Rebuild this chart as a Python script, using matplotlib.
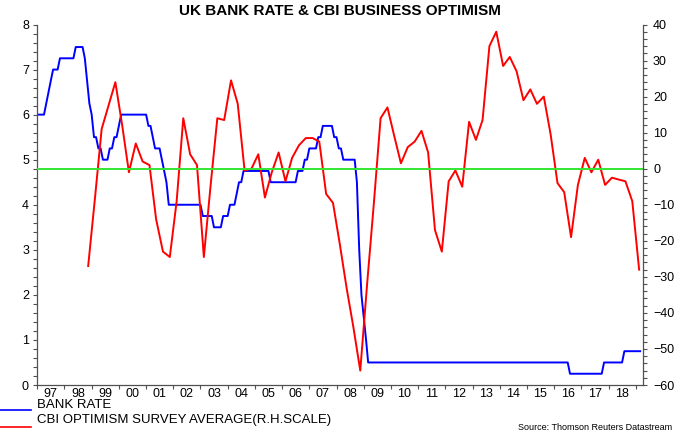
import numpy as np
import pandas as pd
import matplotlib
matplotlib.use("Agg")
import matplotlib.pyplot as plt
import matplotlib.dates as mdates
from matplotlib.lines import Line2D
from matplotlib.ticker import MultipleLocator

plt.rcParams['font.family'] = ['Liberation Sans', 'DejaVu Sans']

# UK bank rate: date of each change and the new rate (%)
rate_change_dates = [
    "1997-01-01", "1997-05-06", "1997-06-06", "1997-07-10", "1997-08-07", "1997-11-06",
    "1998-06-04", "1998-10-08", "1998-11-05", "1998-12-10",
    "1999-01-07", "1999-02-04", "1999-04-08", "1999-06-10", "1999-09-08", "1999-11-04",
    "2000-01-13", "2000-02-10",
    "2001-02-08", "2001-04-05", "2001-05-10", "2001-08-02", "2001-09-18", "2001-10-04", "2001-11-08",
    "2003-02-06", "2003-07-10", "2003-11-06",
    "2004-02-05", "2004-05-06", "2004-06-10", "2004-08-05",
    "2005-08-04",
    "2006-08-03", "2006-11-09",
    "2007-01-11", "2007-05-10", "2007-07-05", "2007-12-06",
    "2008-02-07", "2008-04-10", "2008-10-08", "2008-11-06", "2008-12-04",
    "2009-01-08", "2009-02-05", "2009-03-05",
    "2016-08-04", "2017-11-02", "2018-08-02",
]
rate_levels = [
    6.0, 6.25, 6.5, 6.75, 7.0, 7.25,
    7.5, 7.25, 6.75, 6.25,
    6.0, 5.5, 5.25, 5.0, 5.25, 5.5,
    5.75, 6.0,
    5.75, 5.5, 5.25, 5.0, 4.75, 4.5, 4.0,
    3.75, 3.5, 3.75,
    4.0, 4.25, 4.5, 4.75,
    4.5,
    4.75, 5.0,
    5.25, 5.5, 5.75, 5.5,
    5.25, 5.0, 4.5, 3.0, 2.0,
    1.5, 1.0, 0.5,
    0.25, 0.5, 0.75,
]

# CBI optimism, quarterly, first reading Nov 1998
cbi_optimism = [
    -27, -8, 11, 17.5, 24, 12, -1, 7, 2, 1,
    -14, -23, -24.5, -9, 14, 4, 1, -24.5, -5, 14,
    13.5, 24.5, 18, -0.5, 0, 4, -8, -1, 4.5, -3.5,
    3, 6.5, 8.5, 8.5, 7.5, -7, -9.5, -21, -33, -44,
    -56, -32, -10, 14, 17, 9, 1.5, 6, 7.5, 10.5,
    4.5, -17, -23, -3.5, -0.5, -5, 13, 8, 13.5, 34,
    38, 28.5, 31, 27, 19, 22, 18, 20, 9.5, -4,
    -6.5, -19, -4.5, 3, -1, 2.5, -4.5, -2.5, -3, -3.5,
    -9, -28,
]

year_labels = ["97", "98", "99", "00", "01", "02", "03", "04", "05", "06", "07",
               "08", "09", "10", "11", "12", "13", "14", "15", "16", "17", "18"]

# month-end bank rate
months = pd.date_range("1997-01-01", "2019-03-01", freq="MS")
month_ends = months + pd.offsets.MonthEnd(0)
changes = pd.to_datetime(rate_change_dates)
idx = np.searchsorted(changes.values, month_ends.values, side="right") - 1
bank_rate = np.array(rate_levels)[idx]

cbi_dates = pd.date_range("1998-11-01", periods=len(cbi_optimism), freq="3MS") + pd.Timedelta(days=14)

fig = plt.figure(figsize=(6.8, 4.33), dpi=100)
ax = fig.add_axes([37.3 / 680, 48 / 433, 606 / 680, 360.5 / 433])
ax.plot(months, bank_rate, color="#0000ff", lw=1.4)
ax.set_ylim(0, 8)
ax.set_xlim(pd.Timestamp("1997-01-01"), pd.Timestamp("2019-04-12"))

ax2 = ax.twinx()
ax2.plot(cbi_dates, cbi_optimism, color="#ff0000", lw=1.4)
ax2.axhline(0, color="#33e633", lw=1.4)
ax2.set_ylim(-60, 40)

axis_col = "#505050"
for a in (ax, ax2):
    for s in a.spines.values():
        s.set_color(axis_col)
        s.set_linewidth(0.9)
    a.spines["top"].set_visible(False)
ax.spines["right"].set_visible(False)
ax2.spines["left"].set_visible(False)
ax2.spines["bottom"].set_visible(False)

ax.yaxis.set_major_locator(MultipleLocator(1))
ax.yaxis.set_minor_locator(MultipleLocator(0.2))
ax2.yaxis.set_major_locator(MultipleLocator(10))
ax2.yaxis.set_minor_locator(MultipleLocator(2))

ax.xaxis.set_major_locator(mdates.YearLocator(1, month=1, day=1))
ax.xaxis.set_major_formatter(plt.NullFormatter())
mid_years = pd.date_range("1997-07-01", periods=len(year_labels), freq="12MS")
ax.xaxis.set_minor_locator(plt.FixedLocator(mdates.date2num(mid_years)))
ax.xaxis.set_minor_formatter(plt.FixedFormatter(year_labels))

ax.tick_params(axis="y", which="both", direction="out", length=3, width=0.8,
               color=axis_col, labelsize=9, pad=3)
ax2.tick_params(axis="y", which="both", direction="out", length=3, width=0.8,
                color=axis_col, labelsize=9, pad=4)
ax.tick_params(axis="x", which="major", direction="out", length=3, width=0.8, color=axis_col)
ax.tick_params(axis="x", which="minor", length=0, labelsize=9, pad=2)

fig.text(0.5, 1 - 11 / 433, "UK BANK RATE & CBI BUSINESS OPTIMISM", ha="center", va="center",
         fontsize=11, fontweight="bold")

# legend below the chart
fig.add_artist(Line2D([0, 31 / 680], [1 - 410 / 433] * 2, transform=fig.transFigure,
                      color="#0000ff", lw=1.2))
fig.add_artist(Line2D([0, 31 / 680], [1 - 427 / 433] * 2, transform=fig.transFigure,
                      color="#ff0000", lw=1.2))
fig.text(37 / 680, 1 - 405 / 433, "BANK RATE", va="center", fontsize=9.5)
fig.text(37 / 680, 1 - 420 / 433, "CBI OPTIMISM SURVEY AVERAGE(R.H.SCALE)", va="center", fontsize=9.5)
fig.text(672 / 680, 1 - 428 / 433, "Source: Thomson Reuters Datastream", ha="right", va="center",
         fontsize=6.5)

fig.savefig("out.png", dpi=100)
